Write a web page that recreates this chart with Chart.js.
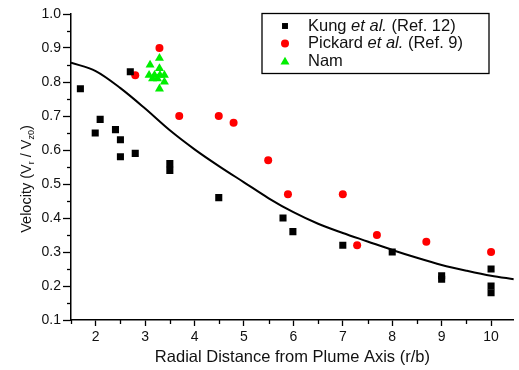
<!DOCTYPE html>
<html>
<head>
<meta charset="utf-8">
<style>
  html, body { margin: 0; padding: 0; background: #fff; }
  #wrap { width: 519px; height: 370px; }
</style>
</head>
<body>
<div id="wrap"><canvas id="myChart" width="519" height="370"></canvas></div>

<script src="https://cdn.jsdelivr.net/npm/chart.js"></script>
<script>
// data
const kungX = [1.69, 2.70, 2.09, 1.99, 2.40, 2.50, 2.50, 2.80, 3.50, 3.50, 4.49, 5.79, 5.99, 7.00, 8.00, 9.00, 9.00, 10.0, 10.0, 10.0];
const kungY = [0.78, 0.83, 0.69, 0.65, 0.66, 0.63, 0.58, 0.59, 0.56, 0.54, 0.46, 0.40, 0.36, 0.32, 0.30, 0.23, 0.22, 0.25, 0.20, 0.18];

const pickX = [2.80, 3.29, 3.69, 4.49, 4.79, 5.49, 5.89, 7.00, 7.29, 7.69, 8.69, 10.0];
const pickY = [0.82, 0.90, 0.70, 0.70, 0.68, 0.57, 0.47, 0.47, 0.32, 0.35, 0.33, 0.30];

const namX = [3.29, 3.10, 3.29, 3.08, 3.19, 3.30, 3.39, 3.15, 3.25, 3.39, 3.29];
const namY = [0.87, 0.85, 0.84, 0.82, 0.82, 0.82, 0.82, 0.81, 0.81, 0.80, 0.78];

const fitX = [1.5, 2.0, 2.5, 3.0, 3.5, 4.0, 4.5, 5.0, 5.5, 6.0, 6.5, 7.0, 7.5, 8.0, 8.5, 9.0, 9.5, 10.0, 10.46];
const fitY = [0.857, 0.832, 0.782, 0.722, 0.658, 0.602, 0.552, 0.505, 0.458, 0.417, 0.383, 0.356, 0.331, 0.306, 0.283, 0.262, 0.245, 0.23, 0.22];

const xTicks = [1.5, 2, 2.5, 3, 3.5, 4, 4.5, 5, 5.5, 6, 6.5, 7, 7.5, 8, 8.5, 9, 9.5, 10];
const yTicks = [0.1, 0.15, 0.2, 0.25, 0.3, 0.35, 0.4, 0.45, 0.5, 0.55, 0.6, 0.65, 0.7, 0.75, 0.8, 0.85, 0.9, 0.95, 1.0];

const seriesLabels = ['Kung et al. (Ref. 12)', 'Pickard et al. (Ref. 9)', 'Nam'];
const xTitle = 'Radial Distance from Plume Axis (r/b)';

const FONT = '"Liberation Sans", Arial, sans-serif';
const INK = '#111';

function pts(xs, ys) {
    return xs.map((x, i) => ({ x: x, y: ys[i] }));
}

function isMult(v, step) {
    const q = v / step;
    return Math.abs(q - Math.round(q)) < 1e-6;
}

function marker(ctx, style, x, y, r, color) {
    ctx.save();
    ctx.fillStyle = color;
    ctx.beginPath();
    if (style === 'rect') {
        const s = Math.SQRT1_2 * r;
        ctx.rect(x - s, y - s, 2 * s, 2 * s);
    } else if (style === 'circle') {
        ctx.arc(x, y, r, 0, Math.PI * 2);
    } else {
        ctx.moveTo(x, y - r);
        ctx.lineTo(x + r * 0.866, y + r * 0.5);
        ctx.lineTo(x - r * 0.866, y + r * 0.5);
        ctx.closePath();
    }
    ctx.fill();
    ctx.restore();
}

// minor ticks, the y title with subscripts, and the boxed legend
const extras = {
    id: 'extras',
    afterDraw(chart) {
        const ctx = chart.ctx;
        const xs = chart.scales.x, ys = chart.scales.y;
        const area = chart.chartArea;
        ctx.save();
        ctx.strokeStyle = '#000';
        ctx.lineWidth = 1.3;
        ys.ticks.forEach(t => {
            if (!isMult(t.value, 0.1)) {
                const py = Math.round(ys.getPixelForValue(t.value)) + 0.5;
                ctx.beginPath();
                ctx.moveTo(area.left, py);
                ctx.lineTo(area.left - 4, py);
                ctx.stroke();
            }
        });
        xs.ticks.forEach(t => {
            if (!isMult(t.value, 1)) {
                const px = Math.round(xs.getPixelForValue(t.value)) + 0.5;
                ctx.beginPath();
                ctx.moveTo(px, area.bottom);
                ctx.lineTo(px, area.bottom + 4);
                ctx.stroke();
            }
        });

        // y title: Velocity (V_r / V_z0)
        ctx.translate(27, 179);
        ctx.rotate(-Math.PI / 2);
        ctx.fillStyle = INK;
        ctx.textBaseline = 'middle';
        const big = '14.5px ' + FONT, small = '9px ' + FONT;
        const parts = [['Velocity (V', big, 0], ['r', small, 5], [' / V', big, 0], ['z0', small, 5], [')', big, 0]];
        let w = 0;
        parts.forEach(p => { ctx.font = p[1]; w += ctx.measureText(p[0]).width; });
        let cx = -w / 2;
        ctx.textAlign = 'left';
        parts.forEach(p => {
            ctx.font = p[1];
            ctx.fillText(p[0], cx, p[2]);
            cx += ctx.measureText(p[0]).width;
        });
        ctx.restore();

        // legend
        ctx.save();
        ctx.strokeStyle = '#000';
        ctx.lineWidth = 1.3;
        ctx.strokeRect(262, 13.5, 227, 60);
        const rows = [26, 43.5, 61];
        chart.data.datasets.slice(0, 3).forEach((ds, i) => {
            const lr = ds.pointStyle === 'rect' ? 4.2 : (ds.pointStyle === 'circle' ? 4 : 5.2);
            marker(ctx, ds.pointStyle, 285, rows[i] + (ds.pointStyle === 'triangle' ? 1 : 0), lr, ds.backgroundColor);
            ctx.fillStyle = INK;
            ctx.textBaseline = 'middle';
            let tx = 308;
            const bits = ds.label.split('et al.');
            const seq = bits.length > 1 ? [[bits[0], false], ['et al.', true], [bits[1], false]] : [[bits[0], false]];
            seq.forEach(s => {
                ctx.font = (s[1] ? 'italic ' : '') + '16.5px ' + FONT;
                ctx.fillText(s[0], tx, rows[i]);
                tx += ctx.measureText(s[0]).width;
            });
        });
        ctx.restore();
    }
};

const ctx = document.getElementById('myChart').getContext('2d');
new Chart(ctx, {
    type: 'scatter',
    data: {
        datasets: [
            { label: seriesLabels[0], data: pts(kungX, kungY), pointStyle: 'rect', pointRadius: 5,
              backgroundColor: '#000', borderWidth: 0, order: 1 },
            { label: seriesLabels[1], data: pts(pickX, pickY), pointStyle: 'circle', pointRadius: 4,
              backgroundColor: '#ff0000', borderWidth: 0, order: 1 },
            { label: seriesLabels[2], data: pts(namX, namY), pointStyle: 'triangle', pointRadius: 5.2,
              backgroundColor: '#00ee00', borderWidth: 0, order: 1 },
            { label: 'fit', data: pts(fitX, fitY), showLine: true, pointRadius: 0, borderColor: '#000',
              borderWidth: 2, cubicInterpolationMode: 'monotone', fill: false, order: 2 }
        ]
    },
    options: {
        responsive: false,
        animation: false,
        layout: { padding: { top: 14, right: 0, left: 0, bottom: 0 } },
        plugins: { legend: { display: false }, tooltip: { enabled: false } },
        scales: {
            x: {
                type: 'linear',
                min: 1.5,
                max: 10.46,
                afterFit: s => { s.height = 50; },
                afterBuildTicks: s => { s.ticks = xTicks.map(v => ({ value: v })); },
                border: { display: true, color: '#000', width: 1.5 },
                grid: {
                    drawOnChartArea: false,
                    tickLength: 6,
                    tickWidth: 1.3,
                    tickColor: c => (c.tick && isMult(c.tick.value, 1)) ? '#000' : 'rgba(0,0,0,0)'
                },
                ticks: {
                    autoSkip: false,
                    maxRotation: 0,
                    padding: 3,
                    color: INK,
                    font: { family: FONT, size: 14 },
                    callback: v => isMult(v, 1) ? String(Math.round(v)) : ''
                },
                title: {
                    display: true,
                    text: xTitle,
                    color: INK,
                    font: { family: FONT, size: 16.5 },
                    padding: { top: 0, bottom: 3 }
                }
            },
            y: {
                type: 'linear',
                min: 0.1,
                max: 1.0,
                afterFit: s => { s.width = 71; },
                afterBuildTicks: s => { s.ticks = yTicks.map(v => ({ value: v })); },
                border: { display: true, color: '#000', width: 1.5 },
                grid: {
                    drawOnChartArea: false,
                    tickLength: 8,
                    tickWidth: 1.3,
                    tickColor: c => (c.tick && isMult(c.tick.value, 0.1)) ? '#000' : 'rgba(0,0,0,0)'
                },
                ticks: {
                    autoSkip: false,
                    padding: 2,
                    color: INK,
                    font: { family: FONT, size: 14 },
                    callback: v => isMult(v, 0.1) ? v.toFixed(1) : ''
                }
            }
        }
    },
    plugins: [extras]
});
</script>
</body>
</html>
